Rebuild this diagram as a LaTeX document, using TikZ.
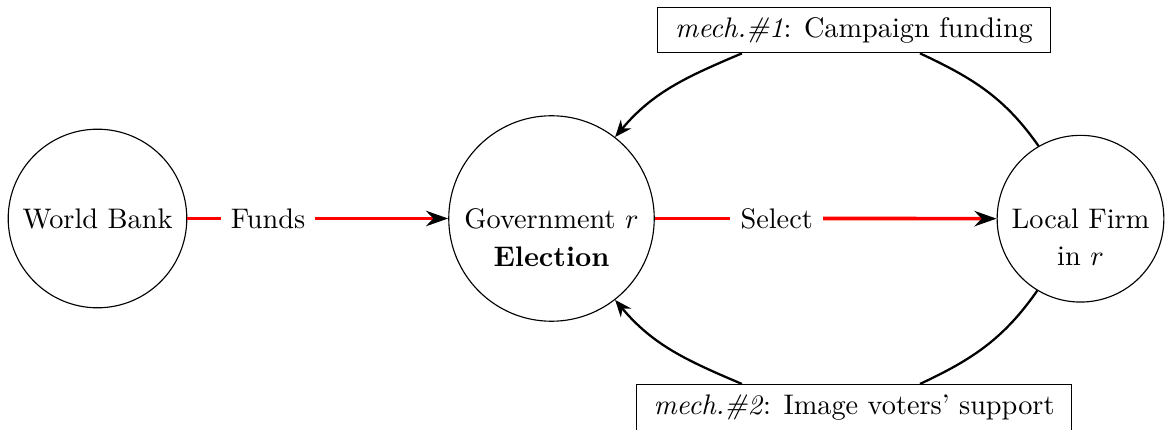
\documentclass[tikz,border=0pt]{standalone}
\usetikzlibrary{arrows.meta}
\begin{document}
\begin{tikzpicture}[x=0.3533pt,y=-0.3533pt,
  actor/.style={circle,draw,thin,inner sep=0pt},
  mechbox/.style={draw,thin,inner sep=0pt,minimum height=16.1pt},
  redline/.style={red,line width=1.3pt},
  redarrow/.style={red,line width=1.3pt,-{Stealth[black,length=7.8pt,width=5.4pt]}},
  curvearrow/.style={thick,-{Stealth[length=6pt,width=4.8pt]}},
  curveline/.style={thick},
  lbl/.style={inner sep=3.4pt}]
\useasboundingbox (0,0) rectangle (1166,430);
% actors
\node[actor,minimum size=63.1pt] (wb) at (97.5,218.5) {World Bank};
\node[actor,minimum size=72.6pt] (gov) at (551.5,218.5) {Government $r$};
\node[anchor=base,inner sep=0pt] (govsub) at ([yshift=-13.5pt]gov.base) {\textbf{Election}};
\node[actor,minimum size=58.9pt] (lf) at (1080.5,218.7) {Local Firm};
\node[anchor=base,inner sep=0pt] (lfsub) at ([yshift=-13.2pt]lf.base) {in $r$};
% mechanism boxes
\node[mechbox,minimum width=139.0pt] (m1) at (854,30) {\textit{mech.\#1}: Campaign funding};
\node[mechbox,minimum width=153.8pt] (m2) at (854,407.3) {\textit{mech.\#2}: Image voters' support};
% red flows
\node[lbl] (funds) at (268,218.5) {Funds};
\node[lbl] (select) at (776.7,218.5) {Select};
\draw[redline] (wb) -- (funds);
\draw[redarrow] (funds) -- (gov);
\draw[redline] (gov) -- (select);
\draw[redarrow] (select) -- (lf);
% mechanism curves
\draw[curveline] (lf.120.7) to[out=125,in=-25] ([xshift=23.3pt]m1.south);
\draw[curvearrow] ([xshift=-39.6pt]m1.south) to[out=203,in=50] (gov.52);
\draw[curveline] (lf.239.3) to[out=235,in=25] ([xshift=23.3pt]m2.north);
\draw[curvearrow] ([xshift=-39.6pt]m2.north) to[out=157,in=-50] (gov.-52);
\end{tikzpicture}
\end{document}
